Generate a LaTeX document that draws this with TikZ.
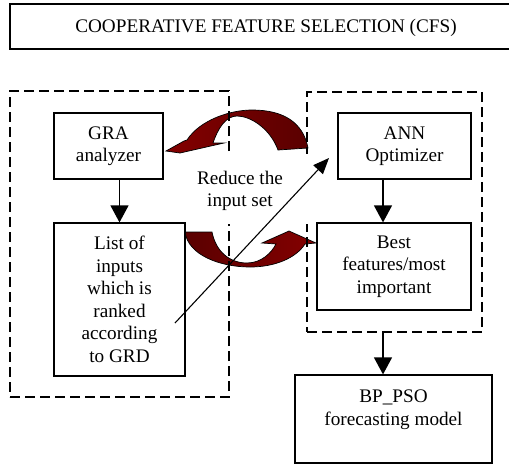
\documentclass[tikz,border=0pt]{standalone}
\usepackage{fontspec}
\setmainfont{Liberation Serif}
\usetikzlibrary{arrows.meta}
\definecolor{arrowdark}{HTML}{5A0000}
\definecolor{arrowred}{HTML}{840000}
\begin{document}
\begin{tikzpicture}[x=1pt,y=-1pt,
  every node/.style={font=\fontsize{19.2}{22.5}\selectfont, align=center, inner sep=0pt},
  solidbox/.style={draw, line width=1.2pt, fill=white},
  dashbox/.style={draw, line width=1.3pt, dash pattern=on 10pt off 5pt},
  flow/.style={line width=1.3pt, -{Triangle[length=17pt,width=18pt]}},
  cross/.style={line width=1.1pt, -{Triangle[length=16pt,width=13pt]}},
  curvearrow/.style={draw=black, line width=0.7pt},
]
\useasboundingbox (0,0) rectangle (509,464);

% curved arrows
\shadedraw[curvearrow, left color=arrowred, right color=arrowdark]
  (278,150) -- (308,148) .. controls (303,122) and (283,110) .. (252,110)
  .. controls (230,110) and (200,120) .. (187,140) -- (184,141) -- (166,151)
  -- (180,153) -- (224,143) -- (213,143) .. controls (218,128) and (226,116) .. (237,116)
  .. controls (250,116) and (270,128) .. (278,150) -- cycle;
\shadedraw[curvearrow, left color=arrowdark, right color=arrowred]
  (185,232) -- (212,232) .. controls (216,252) and (230,263) .. (247,263)
  .. controls (262,263) and (272,252) .. (276,244) -- (262,243) -- (289,231)
  -- (316,243) -- (305,244) .. controls (296,258) and (275,267) .. (250,267)
  .. controls (220,267) and (188,255) .. (185,232) -- cycle;

% groups
\node[dashbox, minimum width=219pt, minimum height=306pt] (leftgrp) at (119.5,244) {};
\node[dashbox, minimum width=175pt, minimum height=240pt] (rightgrp) at (394.5,212) {};

% label with white background
\node[fill=white, minimum width=152pt, minimum height=70pt, text depth=0pt] (reduce) at (240,189) {Reduce the\\input set};

% boxes
\node[draw, line width=1.8pt, minimum width=512pt, minimum height=45pt, text height=17pt] (title) at (266,26.5) {COOPERATIVE FEATURE SELECTION (CFS)};
\node[solidbox, minimum width=109pt, minimum height=66pt] (gra) at (108.5,146) {GRA\\analyzer};
\node[solidbox, minimum width=131pt, minimum height=153pt] (list) at (119.5,299.5) {List of\\inputs\\which is\\ranked\\according\\to GRD};
\node[solidbox, minimum width=133pt, minimum height=66pt] (ann) at (404.5,146) {ANN\\Optimizer};
\node[solidbox, minimum width=154pt, minimum height=87pt] (best) at (394,266.5) {Best\\features/most\\important};
\node[solidbox, minimum width=197pt, minimum height=88pt] (bp) at (393.5,419) {BP\_PSO\\forecasting model\\\mbox{}};

% connectors
\draw[flow] (list.north |- gra.south) -- (list.north);
\draw[flow] ([xshift=-21.5pt]ann.south) -- ([xshift=-11pt]best.north);
\draw[flow] ([xshift=-11.5pt]rightgrp.south) -- ([xshift=-10.5pt]bp.north);

\coordinate (dstart) at (175,323);
\coordinate (dend) at (329,158);
\draw[cross] (dstart) -- (dend);
\end{tikzpicture}
\end{document}
